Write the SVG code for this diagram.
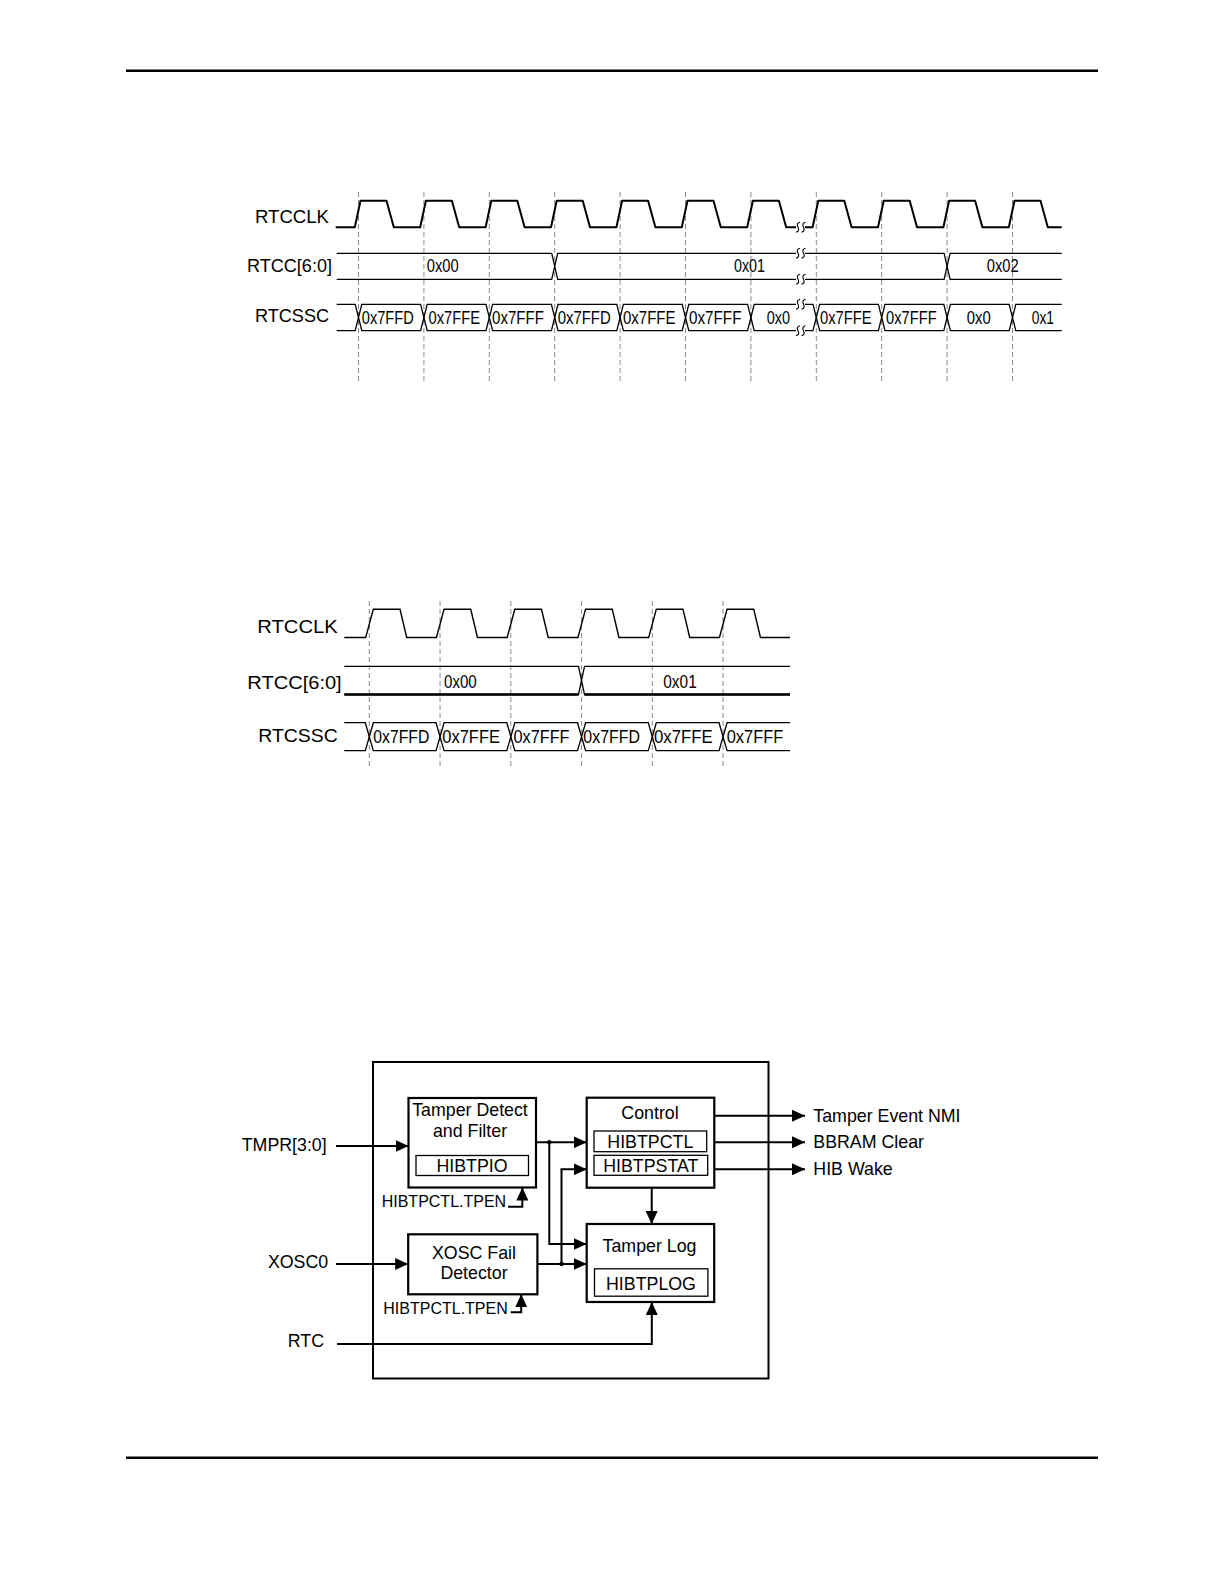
<svg xmlns="http://www.w3.org/2000/svg" width="1224" height="1584" viewBox="0 0 1224 1584">
<style>
text{font-family:"Liberation Sans",Arial,sans-serif;fill:#000}
.lbl{font-size:18px}
.lbl2{font-size:19px}
.val{font-size:17.5px}
.blk{font-size:17.8px}
.tp{font-size:16px}
.rule{stroke:#000;stroke-width:2.4;fill:none}
.clk{stroke:#000;stroke-width:2;fill:none;stroke-linejoin:round}
.clk2{stroke:#000;stroke-width:1.4;fill:none}
.bus{stroke:#000;stroke-width:1.3;fill:none}
.dash{stroke:#8a8a8a;stroke-width:1;stroke-dasharray:5 3;fill:none}
.brk{stroke:#000;stroke-width:1.1;fill:none}
.box{stroke:#000;stroke-width:2.2;fill:none}
.ibox{stroke:#000;stroke-width:1.3;fill:none}
.wire{stroke:#000;stroke-width:2;fill:none}
.ct{text-anchor:middle}
</style>
<defs>
<marker id="ah" markerUnits="userSpaceOnUse" markerWidth="14" markerHeight="12" refX="13" refY="6" orient="auto">
<path d="M0,0 L13,6 L0,12 z" fill="#000"/>
</marker>
<path id="sq" d="M-1,5 q4,-1 2,-5 q-2,-4 2,-5"/>
</defs>

<g id="page-rules">
<line class="rule" x1="126" y1="70.7" x2="1098" y2="70.7"/>
<line class="rule" x1="126" y1="1457.7" x2="1098" y2="1457.7"/>
</g>

<g id="timing-1">
<g id="t1-grid">
<line class="dash" x1="358.5" y1="192" x2="358.5" y2="382"/>
<line class="dash" x1="423.9" y1="192" x2="423.9" y2="382"/>
<line class="dash" x1="489.3" y1="192" x2="489.3" y2="382"/>
<line class="dash" x1="554.7" y1="192" x2="554.7" y2="382"/>
<line class="dash" x1="620.1" y1="192" x2="620.1" y2="382"/>
<line class="dash" x1="685.5" y1="192" x2="685.5" y2="382"/>
<line class="dash" x1="750.9" y1="192" x2="750.9" y2="382"/>
<line class="dash" x1="816.3" y1="192" x2="816.3" y2="382"/>
<line class="dash" x1="881.7" y1="192" x2="881.7" y2="382"/>
<line class="dash" x1="947.1" y1="192" x2="947.1" y2="382"/>
<line class="dash" x1="1012.5" y1="192" x2="1012.5" y2="382"/>
</g>
<text class="lbl" x="255" y="223" textLength="74" lengthAdjust="spacingAndGlyphs">RTCCLK</text>
<text class="lbl" x="247" y="272" textLength="85" lengthAdjust="spacingAndGlyphs">RTCC[6:0]</text>
<text class="lbl" x="255" y="322.3" textLength="74" lengthAdjust="spacingAndGlyphs">RTCSSC</text>

<g id="t1-clk">
<path class="clk" d="M335.7,227.3 H354.8 L360.5,200.7 H386.5 L393.8,227.3 H420.2 L425.9,200.7 H451.9 L459.2,227.3 H485.6 L491.3,200.7 H517.3 L524.6,227.3 H551 L556.7,200.7 H582.7 L590,227.3 H616.4 L622.1,200.7 H648.1 L655.4,227.3 H681.8 L687.5,200.7 H713.5 L720.8,227.3 H747.2 L752.9,200.7 H778.9 L786.2,227.3 H796"/>
<path class="clk" d="M805,227.3 H812.6 L818.3,200.7 H844.3 L851.6,227.3 H878 L883.7,200.7 H909.7 L917,227.3 H943.4 L949.1,200.7 H975.1 L982.4,227.3 H1008.8 L1014.5,200.7 H1040.5 L1047.8,227.3 H1061.7"/>
<use href="#sq" class="brk" x="797" y="227.3"/>
<use href="#sq" class="brk" x="802.5" y="227.3"/>
</g>

<g id="t1-rtcc">
<path class="bus" d="M336.7,253.3 H551.7 L557.7,279.3 H796 M805,279.3 H944.1 L950.1,253.3 H1061.7"/>
<path class="bus" d="M336.7,279.3 H551.7 L557.7,253.3 H796 M805,253.3 H944.1 L950.1,279.3 H1061.7"/>
<use href="#sq" class="brk" x="797" y="253.3"/>
<use href="#sq" class="brk" x="802.5" y="253.3"/>
<use href="#sq" class="brk" x="797" y="279.3"/>
<use href="#sq" class="brk" x="802.5" y="279.3"/>
<text class="val" x="426.7" y="272.3" textLength="32" lengthAdjust="spacingAndGlyphs">0x00</text>
<text class="val" x="734" y="272.3" textLength="31" lengthAdjust="spacingAndGlyphs">0x01</text>
<text class="val" x="986.7" y="272.3" textLength="32" lengthAdjust="spacingAndGlyphs">0x02</text>
</g>

<g id="t1-rtcssc">
<path class="bus" d="M336.7,304.3 H355.2 L358.5,317.5 L355.2,330.7 H336.7"/>
<path class="bus" d="M358.5,317.5 L361.8,304.3 H420.6 L423.9,317.5 L420.6,330.7 H361.8 Z"/>
<path class="bus" d="M423.9,317.5 L427.2,304.3 H486 L489.3,317.5 L486,330.7 H427.2 Z"/>
<path class="bus" d="M489.3,317.5 L492.6,304.3 H551.4 L554.7,317.5 L551.4,330.7 H492.6 Z"/>
<path class="bus" d="M554.7,317.5 L558,304.3 H616.8 L620.1,317.5 L616.8,330.7 H558 Z"/>
<path class="bus" d="M620.1,317.5 L623.4,304.3 H682.2 L685.5,317.5 L682.2,330.7 H623.4 Z"/>
<path class="bus" d="M685.5,317.5 L688.8,304.3 H747.6 L750.9,317.5 L747.6,330.7 H688.8 Z"/>
<path class="bus" d="M796,304.3 H754.2 L750.9,317.5 L754.2,330.7 H796"/>
<path class="bus" d="M805,304.3 H813 L816.3,317.5 L813,330.7 H805"/>
<path class="bus" d="M816.3,317.5 L819.6,304.3 H878.4 L881.7,317.5 L878.4,330.7 H819.6 Z"/>
<path class="bus" d="M881.7,317.5 L885,304.3 H943.8 L947.1,317.5 L943.8,330.7 H885 Z"/>
<path class="bus" d="M947.1,317.5 L950.4,304.3 H1009.2 L1012.5,317.5 L1009.2,330.7 H950.4 Z"/>
<path class="bus" d="M1061.7,304.3 H1015.8 L1012.5,317.5 L1015.8,330.7 H1061.7"/>
<use href="#sq" class="brk" x="797" y="304.3"/>
<use href="#sq" class="brk" x="802.5" y="304.3"/>
<use href="#sq" class="brk" x="797" y="330.7"/>
<use href="#sq" class="brk" x="802.5" y="330.7"/>
<text class="val" x="361.8" y="324.3" textLength="52" lengthAdjust="spacingAndGlyphs">0x7FFD</text>
<text class="val" x="428.5" y="324.3" textLength="51.5" lengthAdjust="spacingAndGlyphs">0x7FFE</text>
<text class="val" x="492" y="324.3" textLength="52" lengthAdjust="spacingAndGlyphs">0x7FFF</text>
<text class="val" x="557.7" y="324.3" textLength="53" lengthAdjust="spacingAndGlyphs">0x7FFD</text>
<text class="val" x="623" y="324.3" textLength="52.5" lengthAdjust="spacingAndGlyphs">0x7FFE</text>
<text class="val" x="689" y="324.3" textLength="52.5" lengthAdjust="spacingAndGlyphs">0x7FFF</text>
<text class="val" x="766.7" y="324.3" textLength="23.3" lengthAdjust="spacingAndGlyphs">0x0</text>
<text class="val" x="820" y="324.3" textLength="51.7" lengthAdjust="spacingAndGlyphs">0x7FFE</text>
<text class="val" x="886" y="324.3" textLength="50.7" lengthAdjust="spacingAndGlyphs">0x7FFF</text>
<text class="val" x="966.7" y="324.3" textLength="24" lengthAdjust="spacingAndGlyphs">0x0</text>
<text class="val" x="1031.7" y="324.3" textLength="22.3" lengthAdjust="spacingAndGlyphs">0x1</text>
</g>
</g>

<g id="timing-2">
<g id="t2-grid">
<line class="dash" x1="369.3" y1="601" x2="369.3" y2="768"/>
<line class="dash" x1="440.05" y1="601" x2="440.05" y2="768"/>
<line class="dash" x1="510.8" y1="601" x2="510.8" y2="768"/>
<line class="dash" x1="581.55" y1="601" x2="581.55" y2="768"/>
<line class="dash" x1="652.3" y1="601" x2="652.3" y2="768"/>
<line class="dash" x1="723.05" y1="601" x2="723.05" y2="768"/>
</g>
<text class="lbl2" x="257.3" y="633.3" textLength="80.4" lengthAdjust="spacingAndGlyphs">RTCCLK</text>
<text class="lbl2" x="247.3" y="689.3" textLength="94.4" lengthAdjust="spacingAndGlyphs">RTCC[6:0]</text>
<text class="lbl2" x="258.3" y="742.3" textLength="79.4" lengthAdjust="spacingAndGlyphs">RTCSSC</text>

<path id="t2-clk" class="clk2" d="M344.3,637.5 H365.7 L373.3,609.3 H400 L406.7,637.5 H436.45 L444.05,609.3 H470.75 L477.45,637.5 H507.2 L514.8,609.3 H541.5 L548.2,637.5 H577.95 L585.55,609.3 H612.25 L618.95,637.5 H648.7 L656.3,609.3 H683 L689.7,637.5 H719.45 L727.05,609.3 H753.75 L760.45,637.5 H790"/>

<g id="t2-rtcc">
<path class="bus" d="M344.3,666.3 H578.5 L584.5,694.5 H790"/>
<path class="bus" d="M344.3,694.5 H578.5 L584.5,666.3 H790"/>
<path stroke="#000" stroke-width="2.6" fill="none" d="M344.3,694.5 H578.5 M584.5,694.5 H790"/>
<text class="val" x="444" y="688" textLength="32.7" lengthAdjust="spacingAndGlyphs">0x00</text>
<text class="val" x="663.3" y="688" textLength="33.4" lengthAdjust="spacingAndGlyphs">0x01</text>
</g>

<g id="t2-rtcssc">
<path class="bus" d="M344.3,722.7 H365.3 L369.3,736.7 L365.3,750.7 H344.3"/>
<path class="bus" d="M369.3,736.7 L373.3,722.7 H436.05 L440.05,736.7 L436.05,750.7 H373.3 Z"/>
<path class="bus" d="M440.05,736.7 L444.05,722.7 H506.8 L510.8,736.7 L506.8,750.7 H444.05 Z"/>
<path class="bus" d="M510.8,736.7 L514.8,722.7 H577.55 L581.55,736.7 L577.55,750.7 H514.8 Z"/>
<path class="bus" d="M581.55,736.7 L585.55,722.7 H648.3 L652.3,736.7 L648.3,750.7 H585.55 Z"/>
<path class="bus" d="M652.3,736.7 L656.3,722.7 H719.05 L723.05,736.7 L719.05,750.7 H656.3 Z"/>
<path class="bus" d="M790,722.7 H727.05 L723.05,736.7 L727.05,750.7 H790"/>
<text class="val" x="373.3" y="743.3" textLength="56" lengthAdjust="spacingAndGlyphs" style="font-size:18.5px">0x7FFD</text>
<text class="val" x="442.3" y="743.3" textLength="57.7" lengthAdjust="spacingAndGlyphs" style="font-size:18.5px">0x7FFE</text>
<text class="val" x="513.5" y="743.3" textLength="56" lengthAdjust="spacingAndGlyphs" style="font-size:18.5px">0x7FFF</text>
<text class="val" x="583.3" y="743.3" textLength="56.7" lengthAdjust="spacingAndGlyphs" style="font-size:18.5px">0x7FFD</text>
<text class="val" x="654" y="743.3" textLength="58.7" lengthAdjust="spacingAndGlyphs" style="font-size:18.5px">0x7FFE</text>
<text class="val" x="726.7" y="743.3" textLength="56.6" lengthAdjust="spacingAndGlyphs" style="font-size:18.5px">0x7FFF</text>
</g>
</g>

<g id="block-diagram">
<rect id="outer" class="box" x="373" y="1062" width="395.5" height="316.5" style="stroke-width:2"/>

<g id="tamper-detect">
<rect class="box" x="408.5" y="1098" width="127.5" height="89.5"/>
<text class="blk ct" x="470" y="1116">Tamper Detect</text>
<text class="blk ct" x="470" y="1136.5">and Filter</text>
<rect class="ibox" x="416" y="1155.5" width="112.5" height="20"/>
<text class="blk ct" x="472" y="1171.5">HIBTPIO</text>
</g>

<g id="xosc-fail">
<rect class="box" x="408.2" y="1234.3" width="129.2" height="60"/>
<text class="blk ct" x="474" y="1259">XOSC Fail</text>
<text class="blk ct" x="474" y="1279.3">Detector</text>
</g>

<g id="control">
<rect class="box" x="586.7" y="1097.7" width="127.6" height="90"/>
<text class="blk ct" x="650" y="1119.3">Control</text>
<rect class="ibox" x="594" y="1131" width="112.7" height="20.7"/>
<text class="blk ct" x="650.3" y="1148">HIBTPCTL</text>
<rect class="ibox" x="594" y="1155.3" width="113.7" height="20"/>
<text class="blk ct" x="650.8" y="1171.5">HIBTPSTAT</text>
</g>

<g id="tamper-log">
<rect class="box" x="586.7" y="1224" width="127.5" height="78"/>
<text class="blk ct" x="649.5" y="1251.7">Tamper Log</text>
<rect class="ibox" x="594.5" y="1268.8" width="113.4" height="27.4"/>
<text class="blk ct" x="651" y="1289.5">HIBTPLOG</text>
</g>

<g id="labels">
<text class="blk" x="326.7" y="1151" text-anchor="end">TMPR[3:0]</text>
<text class="blk" x="328.2" y="1268.3" text-anchor="end">XOSC0</text>
<text class="blk" x="324" y="1346.7" text-anchor="end">RTC</text>
<text class="blk" x="813.3" y="1121.7">Tamper Event NMI</text>
<text class="blk" x="813.3" y="1148.3">BBRAM Clear</text>
<text class="blk" x="813.3" y="1175.3">HIB Wake</text>
<text class="tp" x="381.7" y="1206.7">HIBTPCTL.TPEN</text>
<text class="tp" x="383.3" y="1314">HIBTPCTL.TPEN</text>
</g>

<g id="connectors">
<path class="wire" marker-end="url(#ah)" d="M336,1146 H408.5"/>
<path class="wire" marker-end="url(#ah)" d="M336,1264 H408.2"/>
<path class="wire" marker-end="url(#ah)" d="M337,1344 H651.8 V1302"/>
<path class="wire" marker-end="url(#ah)" d="M536,1142.3 H586.7"/>
<path class="wire" marker-end="url(#ah)" d="M549.3,1142.3 V1244 H586.7"/>
<path class="wire" marker-end="url(#ah)" d="M537.4,1264 H586.7"/>
<path class="wire" marker-end="url(#ah)" d="M561.5,1264 V1169.3 H586.7"/>
<path class="wire" marker-end="url(#ah)" d="M651.7,1187.7 V1224"/>
<path class="wire" marker-end="url(#ah)" d="M714.3,1115.7 H805"/>
<path class="wire" marker-end="url(#ah)" d="M714.3,1142.3 H805"/>
<path class="wire" marker-end="url(#ah)" d="M714.3,1169.3 H805"/>
<path class="wire" marker-end="url(#ah)" d="M508,1206.7 H522.3 V1187.5"/>
<path class="wire" marker-end="url(#ah)" d="M510.7,1312.3 H521.2 V1294.3"/>
<circle cx="549.3" cy="1142.3" r="2.2" fill="#000"/>
<circle cx="561.5" cy="1264" r="2.2" fill="#000"/>
</g>
</g>
</svg>
